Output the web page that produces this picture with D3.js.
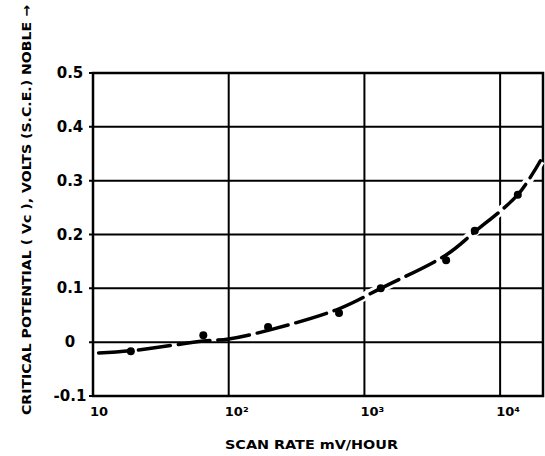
<!DOCTYPE html>
<html>
<head>
<meta charset="utf-8">
<script src="https://cdn.jsdelivr.net/npm/d3@7"></script>
<style>
  body { margin: 0; background: #fff; }
  text { font-family: "DejaVu Sans", sans-serif; font-weight: bold; fill: #000; }
</style>
</head>
<body>
<svg id="chart" width="545" height="456"></svg>
<script>
// Scan rate (mV/hour) vs critical potential (V, S.C.E.)
const xTicks = [10, 100, 1000, 10000];
const xTickLabels = ['10', '10²', '10³', '10⁴'];
const yTicks = [-0.1, 0, 0.1, 0.2, 0.3, 0.4, 0.5];
const yTickLabels = ['-0.1', '0', '0.1', '0.2', '0.3', '0.4', '0.5'];

// measured points
const scanRate = [19, 65, 195, 650, 1320, 4000, 6500, 13500];
const potential = [-0.017, 0.013, 0.028, 0.054, 0.10, 0.152, 0.207, 0.274];

// fitted curve through the points
const curveRate = [11, 19, 65, 100, 195, 650, 1320, 4000, 6500, 13500, 19800];
const curveV = [-0.02, -0.016, 0.002, 0.006, 0.022, 0.062, 0.10, 0.162, 0.205, 0.274, 0.337];

const svg = d3.select('#chart');
const margin = { left: 93, top: 73, right: 2, bottom: 60 };
const W = 545, H = 456;

const x = d3.scaleLog().domain([10, 20700]).range([margin.left, W - margin.right]);
const y = d3.scaleLinear().domain([-0.1, 0.5]).range([H - margin.bottom, margin.top]);

// Grid
const grid = svg.append('g').attr('stroke', '#000').attr('stroke-width', 2);
grid.selectAll('.hg')
    .data(yTicks.slice(1, -1))
    .join('line')
    .attr('x1', x.range()[0] - 4).attr('x2', x.range()[1])
    .attr('y1', d => y(d)).attr('y2', d => y(d));
grid.selectAll('.vg')
    .data(xTicks.slice(1))
    .join('line')
    .attr('x1', d => x(d)).attr('x2', d => x(d))
    .attr('y1', y.range()[1]).attr('y2', y.range()[0]);

// Frame
svg.append('rect')
    .attr('x', x.range()[0]).attr('y', y.range()[1])
    .attr('width', x.range()[1] - x.range()[0])
    .attr('height', y.range()[0] - y.range()[1])
    .attr('fill', 'none').attr('stroke', '#000').attr('stroke-width', 2.5);

// small ticks left of the frame at top/bottom
svg.append('g').selectAll('line')
    .data([yTicks[0], yTicks[yTicks.length - 1]])
    .join('line')
    .attr('x1', x.range()[0] - 4).attr('x2', x.range()[0])
    .attr('y1', d => y(d)).attr('y2', d => y(d))
    .attr('stroke', '#000').attr('stroke-width', 2);

// Curve (dashed)
const pts = curveRate.map((r, i) => [r, curveV[i]]);
const line = d3.line()
    .x(d => x(d[0]))
    .y(d => y(d[1]))
    .curve(d3.curveCatmullRom.alpha(0.5));

// white halo where the hand-drawn grid breaks around the steep part
svg.append('path')
    .datum(pts.filter(d => d[0] >= 650))
    .attr('d', line)
    .attr('fill', 'none')
    .attr('stroke', '#fff')
    .attr('stroke-width', 9);

svg.append('path')
    .datum(pts)
    .attr('d', line)
    .attr('fill', 'none')
    .attr('stroke', '#000')
    .attr('stroke-width', 3.5)
    .attr('stroke-linecap', 'round')
    .attr('stroke-dasharray', '32,8');

// Points
svg.append('g').selectAll('circle')
    .data(scanRate.map((r, i) => [r, potential[i]]))
    .join('circle')
    .attr('cx', d => x(d[0]))
    .attr('cy', d => y(d[1]))
    .attr('r', 4)
    .attr('fill', '#000');

// Y tick labels
svg.append('g').selectAll('text')
    .data(yTicks)
    .join('text')
    .attr('x', 70)
    .attr('y', d => y(d) + 5)
    .attr('text-anchor', 'middle')
    .attr('font-size', 15)
    .text((d, i) => yTickLabels[i]);

// X tick labels
svg.append('g').selectAll('text')
    .data(xTicks)
    .join('text')
    .attr('x', (d, i) => x(d) + (i === 0 ? 6 : 8))
    .attr('y', 416)
    .attr('text-anchor', 'middle')
    .attr('font-size', 13)
    .text((d, i) => xTickLabels[i]);

// Axis titles
svg.append('text')
    .attr('x', 225).attr('y', 449)
    .attr('font-size', 13)
    .attr('textLength', 173)
    .attr('lengthAdjust', 'spacingAndGlyphs')
    .text('SCAN RATE mV/HOUR');

svg.append('text')
    .attr('transform', 'translate(31,415) rotate(-90)')
    .attr('font-size', 13)
    .attr('textLength', 410)
    .attr('lengthAdjust', 'spacingAndGlyphs')
    .text('CRITICAL POTENTIAL ( Vc ), VOLTS (S.C.E.) NOBLE →');
</script>
</body>
</html>
